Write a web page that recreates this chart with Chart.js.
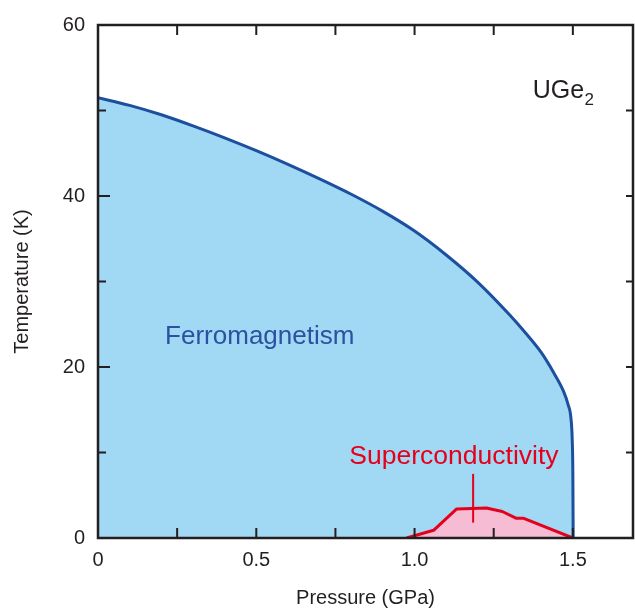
<!DOCTYPE html>
<html>
<head>
<meta charset="utf-8">
<script src="https://cdn.jsdelivr.net/npm/chart.js@4"></script>
<style>
html,body{margin:0;padding:0;background:#fff;}
#wrap{width:635px;height:608px;position:relative;}
</style>
</head>
<body>
<div id="wrap"><canvas id="c" width="635" height="608"></canvas></div>
<script>
// Ferromagnetic transition line T_Curie(P)
const fmPressure = [0, 0.1, 0.2, 0.3, 0.4, 0.5, 0.6, 0.7, 0.8, 0.9, 1.0, 1.1, 1.2, 1.3, 1.35, 1.4, 1.44, 1.47, 1.485, 1.494, 1.498, 1.5, 1.501];
const fmTemp     = [51.5, 50.6, 49.5, 48.2, 46.8, 45.3, 43.7, 42.0, 40.2, 38.2, 35.9, 33.1, 29.9, 26.1, 24.0, 21.7, 19.3, 17.2, 15.6, 14.0, 11.5, 7.5, 0];
// Superconducting dome
const scPressure = [0.975, 1.06, 1.133, 1.227, 1.277, 1.322, 1.345, 1.5];
const scTemp     = [0, 0.9, 3.4, 3.5, 3.1, 2.3, 2.3, 0];
// Pointer from label to dome
const ptrPressure = [1.185, 1.185];
const ptrTemp     = [1.8, 7.5];
// Tick labels
const xLabels = {0: '0', 0.5: '0.5', 1: '1.0', 1.5: '1.5'};
const yLabels = {0: '0', 20: '20', 40: '40', 60: '60'};

const pts = (xs, ys) => xs.map((v, i) => ({x: v, y: ys[i]}));
const FONT = "'Liberation Sans', Arial, Helvetica, sans-serif";
const INK = '#231f20';

const isMult = (v, s) => Math.abs(v / s - Math.round(v / s)) < 1e-6;

const framePlugin = {
  id: 'frame',
  afterDatasetsDraw(chart) {
    const {ctx, chartArea: {left, right, top, bottom}, scales: {x, y}} = chart;
    ctx.save();
    ctx.strokeStyle = INK;
    ctx.lineWidth = 2.5;
    ctx.beginPath();
    ctx.rect(left, top, right - left, bottom - top);
    ctx.stroke();
    ctx.lineWidth = 2;
    ctx.beginPath();
    x.ticks.forEach(t => {
      const v = t.value;
      if (!isMult(v, 0.25) || v <= 0) return;
      const px = x.getPixelForValue(v);
      ctx.moveTo(px, bottom); ctx.lineTo(px, bottom - 10);
      ctx.moveTo(px, top); ctx.lineTo(px, top + 10);
    });
    y.ticks.forEach(t => {
      const v = t.value;
      if (!isMult(v, 10) || v <= 0 || v >= 60) return;
      const py = y.getPixelForValue(v);
      const L = isMult(v, 20) ? 12 : 8;
      ctx.moveTo(left, py); ctx.lineTo(left + L, py);
      ctx.moveTo(right, py); ctx.lineTo(right - 7, py);
    });
    ctx.stroke();

    // annotations
    ctx.textBaseline = 'alphabetic';
    ctx.textAlign = 'left';
    ctx.font = '26px ' + FONT;
    ctx.fillStyle = '#2b51a0';
    ctx.fillText('Ferromagnetism', x.getPixelForValue(0.212), y.getPixelForValue(22.7));
    ctx.fillStyle = '#e5001c';
    ctx.font = '26.5px ' + FONT;
    ctx.fillText('Superconductivity', x.getPixelForValue(0.794), y.getPixelForValue(8.7));
    ctx.fillStyle = INK;
    ctx.font = '25px ' + FONT;
    const ux = x.getPixelForValue(1.373), uy = y.getPixelForValue(51.5);
    ctx.fillText('UGe', ux, uy);
    const w = ctx.measureText('UGe').width;
    ctx.font = '17px ' + FONT;
    ctx.fillText('2', ux + w + 0.5, uy + 7);
    ctx.restore();
  }
};

new Chart(document.getElementById('c'), {
  type: 'line',
  data: {
    datasets: [
      {
        data: pts(ptrPressure, ptrTemp),
        borderColor: '#e5001c', borderWidth: 2, pointRadius: 0, fill: false, order: 0, tension: 0
      },
      {
        data: pts(scPressure, scTemp),
        borderColor: '#e5001c', backgroundColor: '#f5bcd3', borderWidth: 3,
        pointRadius: 0, fill: 'origin', order: 1, tension: 0, borderJoinStyle: 'round'
      },
      {
        data: pts(fmPressure, fmTemp),
        borderColor: '#1d4f9f', backgroundColor: '#a1d9f4', borderWidth: 3,
        pointRadius: 0, fill: 'origin', order: 3, cubicInterpolationMode: 'monotone'
      }
    ]
  },
  options: {
    responsive: false,
    animation: false,
    events: [],
    layout: {padding: {left: 0, right: 2, top: 22, bottom: 0}},
    plugins: {legend: {display: false}, tooltip: {enabled: false}},
    scales: {
      x: {
        type: 'linear', min: 0, max: 1.69,
        grid: {display: false, drawTicks: false},
        border: {display: false},
        ticks: {
          stepSize: 0.25, includeBounds: false, autoSkip: false, maxRotation: 0,
          padding: 10, color: INK, font: {family: FONT, size: 20},
          callback: v => { for (const k in xLabels) if (Math.abs(v - k) < 1e-6) return xLabels[k]; return ''; }
        },
        title: {display: true, text: 'Pressure (GPa)', color: INK,
                font: {family: FONT, size: 20, lineHeight: 1.0}, padding: {top: 0, bottom: 0}},
        afterFit: s => { s.height = 70; }
      },
      y: {
        type: 'linear', min: 0, max: 60,
        grid: {display: false, drawTicks: false},
        border: {display: false},
        ticks: {
          stepSize: 10, autoSkip: false, padding: 13, color: INK, font: {family: FONT, size: 20},
          callback: v => (yLabels[v] !== undefined ? yLabels[v] : '')
        },
        title: {display: true, text: 'Temperature (K)', color: INK,
                font: {family: FONT, size: 20, lineHeight: 1.2}, padding: {top: 10, bottom: 0}},
        afterFit: s => { s.width = 98; }
      }
    }
  },
  plugins: [framePlugin]
});
</script>
</body>
</html>
